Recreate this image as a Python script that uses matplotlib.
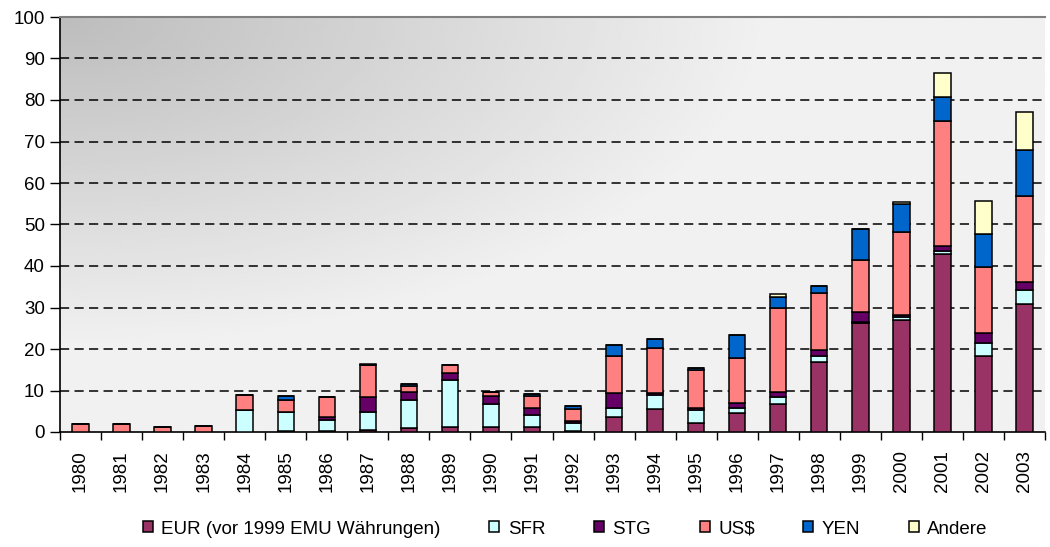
import numpy as np
import matplotlib
matplotlib.use("Agg")
import matplotlib.pyplot as plt
from matplotlib.ticker import FixedLocator, MultipleLocator

plt.rcParams["font.family"] = ["Liberation Sans", "DejaVu Sans"]

# -------------------------------
# Daten (Mrd.)
# -------------------------------
jahre = [str(j) for j in range(1980, 2004)]

eur = [0, 0, 0, 0, 0, 0.3, 0.3, 0.5, 0.9, 1.1, 1.1, 1.1, 0.3, 3.5, 5.5, 2.1,
       4.5, 6.7, 16.9, 26.2, 27.0, 42.9, 18.4, 30.8]
sfr = [0, 0, 0, 0, 5.3, 4.6, 2.6, 4.4, 6.8, 11.4, 5.6, 2.9, 1.8, 2.3, 3.3, 3.3,
       1.4, 1.7, 1.4, 0.3, 0.8, 0.8, 3.0, 3.5]
stg = [0, 0, 0, 0, 0, 0, 0.6, 3.5, 2.0, 1.6, 2.0, 1.9, 0.6, 3.5, 0.5, 0.3,
       1.0, 1.3, 1.5, 2.5, 0.4, 1.0, 2.4, 1.9]
usd = [2.0, 2.0, 1.2, 1.5, 3.6, 2.8, 4.9, 7.7, 1.3, 2.0, 1.0, 2.8, 2.8, 9.1,
       11.0, 9.3, 11.0, 20.3, 13.6, 12.4, 19.9, 30.3, 15.9, 20.7]
yen = [0, 0, 0, 0, 0, 1.0, 0, 0, 0.6, 0, 0, 0.4, 0.8, 2.6, 2.1, 0.4,
       5.5, 2.6, 1.9, 7.4, 6.8, 5.8, 7.9, 11.1]
andere = [0, 0, 0, 0, 0, 0, 0, 0.4, 0, 0, 0, 0, 0, 0, 0, 0,
          0, 0.6, 0, 0, 0.5, 5.6, 8.0, 9.2]

serien = [
    ("EUR (vor 1999 EMU Währungen)", eur, "#993366"),
    ("SFR", sfr, "#CCFFFF"),
    ("STG", stg, "#660066"),
    ("US$", usd, "#FF8080"),
    ("YEN", yen, "#0066CC"),
    ("Andere", andere, "#FFFFCC"),
]

fs = 13.5

# -------------------------------
# Figur
# -------------------------------
fig = plt.figure(figsize=(10.5, 5.47), dpi=100)
ax = fig.add_axes([60 / 1050, 115 / 547, 985 / 1050, 415 / 547])

x = np.arange(len(jahre))
n = len(jahre)

# Hintergrund mit Verlauf (dunkel oben links)
gx, gy = np.meshgrid(np.linspace(0, 1, 300), np.linspace(0, 1, 200))
r = np.clip(np.sqrt((gx / 0.72) ** 2 + (gy / 0.8) ** 2), 0, 1)
grau = 0.74 + 0.205 * r
ax.imshow(grau, cmap="gray", vmin=0, vmax=1, extent=(-0.5, n - 0.5, 0, 100),
          origin="upper", aspect="auto", zorder=0, interpolation="bilinear")
ax.set_xlim(-0.5, n - 0.5)
ax.set_ylim(0, 100)

# Gitterlinien
for yv in range(10, 100, 10):
    ax.axhline(yv, color="black", lw=1.1, ls=(0, (6, 3.5)), zorder=1)

# Gestapelte Balken
unten = np.zeros(n)
for name, werte, farbe in serien:
    w = np.array(werte, dtype=float)
    ax.bar(x, w, width=0.4, bottom=unten, color=farbe, edgecolor="black",
           linewidth=1.1, label=name, zorder=3)
    unten += w

# Achsen
ax.spines["right"].set_visible(False)
ax.spines["top"].set_color("#808080")
ax.spines["top"].set_linewidth(1.5)
ax.spines["left"].set_linewidth(1.2)
ax.spines["bottom"].set_linewidth(1.2)

ax.yaxis.set_major_locator(MultipleLocator(10))
ax.tick_params(axis="y", direction="out", length=7, width=1, labelsize=fs, pad=4)

ax.set_xticks(x)
ax.set_xticklabels(jahre, rotation=90, fontsize=fs)
ax.tick_params(axis="x", which="major", length=0, pad=13)
ax.xaxis.set_minor_locator(FixedLocator(np.arange(-0.5, n, 1.0)))
ax.tick_params(axis="x", which="minor", direction="out", length=6, width=1)

ax.legend(loc="center", bbox_to_anchor=(0.513, -0.234), ncol=6, frameon=False,
          fontsize=fs, handlelength=0.53, handleheight=0.53, handletextpad=0.45,
          columnspacing=2.6, borderpad=0)

fig.savefig("out.png", dpi=100)
